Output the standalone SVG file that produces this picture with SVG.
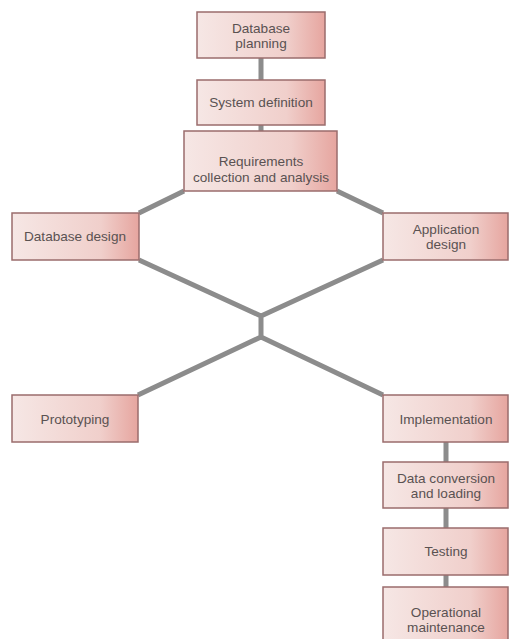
<svg xmlns="http://www.w3.org/2000/svg" width="510" height="639" viewBox="0 0 510 639">
<defs>
<linearGradient id="g" x1="0" y1="0" x2="1" y2="0">
<stop offset="0" stop-color="#f6e7e5"/>
<stop offset="0.7" stop-color="#f0cfcb"/>
<stop offset="1" stop-color="#e6a59f"/>
</linearGradient>
</defs>
<style>
.box{fill:url(#g);stroke:#9a6c6c;stroke-width:1.5}
.t{font-family:"Liberation Sans",Arial,sans-serif;font-size:13.6px;fill:#5a5252;text-anchor:middle;dominant-baseline:central}
.c{stroke:#8c8c8c;stroke-width:5;fill:none;stroke-linejoin:round}
</style>
<rect width="510" height="639" fill="#ffffff"/>
<g id="connectors">
<path class="c" d="M261 58V80M261 125V131M184 191L139 213M337 191L383 213M139 260L261 316L383 260M261 316V337M138 395L261 337L383 395M446 442V462M446 508V528M446 575V587"/>
</g>
<g id="db-planning"><rect class="box" x="197" y="12" width="128" height="46"/><text class="t" x="261" y="28">Database</text><text class="t" x="261" y="43">planning</text></g>
<g id="system-definition"><rect class="box" x="197" y="80" width="128" height="45"/><text class="t" x="261" y="102">System definition</text></g>
<g id="requirements"><rect class="box" x="184" y="131" width="153" height="60"/><text class="t" x="261" y="161">Requirements</text><text class="t" x="261" y="177">collection and analysis</text></g>
<g id="db-design"><rect class="box" x="12" y="213" width="127" height="47"/><text class="t" x="75" y="236">Database design</text></g>
<g id="app-design"><rect class="box" x="383" y="213" width="125" height="47"/><text class="t" x="446" y="229">Application</text><text class="t" x="446" y="244">design</text></g>
<g id="prototyping"><rect class="box" x="12" y="395" width="126" height="47"/><text class="t" x="75" y="419">Prototyping</text></g>
<g id="implementation"><rect class="box" x="383" y="395" width="125" height="47"/><text class="t" x="446" y="419">Implementation</text></g>
<g id="data-conversion"><rect class="box" x="383" y="462" width="125" height="46"/><text class="t" x="446" y="478">Data conversion</text><text class="t" x="446" y="493">and loading</text></g>
<g id="testing"><rect class="box" x="383" y="528" width="125" height="47"/><text class="t" x="446" y="551">Testing</text></g>
<g id="operational"><rect class="box" x="383" y="587" width="125" height="56"/><text class="t" x="446" y="612">Operational</text><text class="t" x="446" y="627">maintenance</text></g>
</svg>
